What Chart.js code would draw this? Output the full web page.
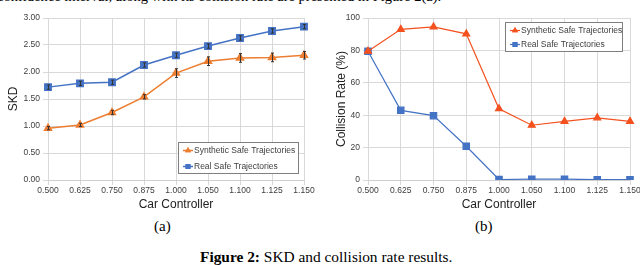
<!DOCTYPE html>
<html>
<head>
<meta charset="utf-8">
<script src="https://cdn.jsdelivr.net/npm/chart.js@4"></script>
<style>
  html, body { margin: 0; padding: 0; background: #fff; }
  body { width: 640px; height: 265px; position: relative; overflow: hidden; }
  .txt { position: absolute; font-family: "Liberation Serif", "Times New Roman", serif; color: #000; white-space: nowrap; line-height: 15px; }
  canvas { position: absolute; }
</style>
</head>
<body>
<div class="txt" style="left:-3px; top:-11px; font-size:14.5px; line-height:14.5px;">confidence interval, along with its collision rate are presented in Figure 2(a).</div>
<canvas id="skdChart" width="318" height="212" style="left:0; top:0;"></canvas>
<canvas id="collisionChart" width="330" height="212" style="left:320px; top:0;"></canvas>
<div class="txt" style="left:154px; top:219px; font-size:15px;">(a)</div>
<div class="txt" style="left:475px; top:219px; font-size:15px;">(b)</div>
<div class="txt" style="left:200px; top:249px; font-size:15.4px;"><b>Figure 2:</b> SKD and collision rate results.</div>
<script>
// Data
const controllers = ['0.500', '0.625', '0.750', '0.875', '1.000', '1.050', '1.100', '1.125', '1.150'];

const skdSynthetic = [0.96, 1.02, 1.25, 1.54, 1.98, 2.20, 2.26, 2.27, 2.31];
const skdReal = [1.72, 1.79, 1.81, 2.13, 2.31, 2.48, 2.63, 2.76, 2.84];
const skdSyntheticErr = [0.03, 0.03, 0.04, 0.04, 0.08, 0.08, 0.08, 0.08, 0.07];
const skdRealErr = [0.04, 0.04, 0.04, 0.04, 0.04, 0.04, 0.04, 0.04, 0.04];

const collisionSynthetic = [79.5, 93.0, 94.5, 90.2, 44.0, 33.8, 36.2, 38.4, 36.2];
const collisionReal = [79.5, 43.0, 39.7, 20.8, 0.3, 0.5, 0.5, 0.2, 0.2];

const seriesNames = ['Synthetic Safe Trajectories', 'Real Safe Trajectories'];

const FONT = '"Liberation Sans", Arial, sans-serif';
const GRID = '#d9d9d9';
const BLUE = '#4472c4';

// error bars drawn through the y scale
const errorBarPlugin = {
  id: 'errorBars',
  afterDatasetsDraw(chart) {
    const ctx = chart.ctx;
    const y = chart.scales.y;
    chart.data.datasets.forEach((ds, i) => {
      if (!ds.errors) return;
      const meta = chart.getDatasetMeta(i);
      ctx.save();
      ctx.strokeStyle = '#333';
      ctx.lineWidth = 1;
      meta.data.forEach((pt, j) => {
        const v = ds.data[j], e = ds.errors[j];
        const top = y.getPixelForValue(v + e);
        const bot = y.getPixelForValue(v - e);
        const x = Math.round(pt.x) + 0.5;
        ctx.beginPath();
        ctx.moveTo(x, top); ctx.lineTo(x, bot);
        ctx.moveTo(x - 1.5, top); ctx.lineTo(x + 1.5, top);
        ctx.moveTo(x - 1.5, bot); ctx.lineTo(x + 1.5, bot);
        ctx.stroke();
      });
      ctx.restore();
    });
  }
};

// boxed legend placed inside the plot, like the spreadsheet original
const boxLegendPlugin = {
  id: 'boxLegend',
  afterDraw(chart, args, opts) {
    const ctx = chart.ctx;
    ctx.save();
    ctx.fillStyle = '#fff';
    ctx.fillRect(opts.x, opts.y, opts.w, opts.h);
    ctx.strokeStyle = '#7f7f7f';
    ctx.lineWidth = 1;
    ctx.strokeRect(opts.x + 0.5, opts.y + 0.5, opts.w - 1, opts.h - 1);
    ctx.font = '8.5px ' + FONT;
    ctx.textBaseline = 'middle';
    chart.data.datasets.forEach((ds, i) => {
      const cy = opts.y + opts.first + i * opts.gap;
      const sx = opts.x + opts.sym;
      ctx.strokeStyle = ds.borderColor;
      ctx.lineWidth = ds.borderWidth;
      ctx.beginPath();
      ctx.moveTo(sx - 5, cy); ctx.lineTo(sx + 5, cy);
      ctx.stroke();
      ctx.fillStyle = ds.borderColor;
      Chart.helpers.drawPoint(ctx, { pointStyle: ds.pointStyle, radius: 3.5, borderWidth: 0 }, sx, cy);
      ctx.fill();
      ctx.fillStyle = '#404040';
      ctx.fillText(ds.label, sx + 6, cy);
    });
    ctx.restore();
  }
};

function makeOptions(yMax, yStep, decimals, titleText, titlePad, legend) {
  return {
    responsive: false,
    animation: false,
    layout: { padding: { top: 18, right: legend.right, bottom: 0, left: 0 } },
    plugins: { legend: { display: false }, tooltip: { enabled: false }, boxLegend: legend },
    scales: {
      x: {
        offset: false,
        grid: { color: GRID, tickLength: 5, drawTicks: true },
        border: { color: '#cfcfcf' },
        ticks: { font: { family: FONT, size: 8.5 }, color: '#404040', padding: 1, maxRotation: 0, autoSkip: false },
        title: { display: true, text: 'Car Controller', font: { family: FONT, size: 12 }, color: '#222', padding: 0 },
        afterFit(s) { s.height = 32; }
      },
      y: {
        min: 0, max: yMax,
        grid: { color: GRID, tickLength: 5 },
        border: { color: GRID },
        ticks: { stepSize: yStep, font: { family: FONT, size: 8.5 }, color: '#404040', padding: 3,
                 callback: v => v.toFixed(decimals) },
        title: { display: true, text: titleText, font: { family: FONT, size: 12 }, color: '#222', padding: { top: titlePad, bottom: 0 } },
        afterFit(s) { s.width = 48; }
      }
    }
  };
}

new Chart(document.getElementById('skdChart'), {
  type: 'line',
  data: {
    labels: controllers,
    datasets: [
      { label: seriesNames[0], data: skdSynthetic, errors: skdSyntheticErr, borderColor: '#ed7d31', backgroundColor: '#ed7d31',
        borderWidth: 1.5, pointStyle: 'triangle', pointRadius: 4, tension: 0 },
      { label: seriesNames[1], data: skdReal, errors: skdRealErr, borderColor: BLUE, backgroundColor: BLUE,
        borderWidth: 1.5, pointStyle: 'rect', pointRadius: 4.5, tension: 0 }
    ]
  },
  options: makeOptions(3, 0.5, 2, 'SKD', 6,
    { x: 178, y: 142, w: 121, h: 32, first: 8.5, gap: 16, sym: 10, right: 14 }),
  plugins: [errorBarPlugin, boxLegendPlugin]
});

new Chart(document.getElementById('collisionChart'), {
  type: 'line',
  data: {
    labels: controllers,
    datasets: [
      { label: seriesNames[0], data: collisionSynthetic, borderColor: '#f4511e', backgroundColor: '#f4511e',
        borderWidth: 1.2, pointStyle: 'triangle', pointRadius: 4, tension: 0 },
      { label: seriesNames[1], data: collisionReal, borderColor: BLUE, backgroundColor: BLUE,
        borderWidth: 1.2, pointStyle: 'rect', pointRadius: 4.5, tension: 0 }
    ]
  },
  options: makeOptions(100, 20, 0, 'Collision Rate (%)', 14,
    { x: 185, y: 22, w: 118, h: 30, first: 8.5, gap: 14, sym: 10, right: 20 }),
  plugins: [boxLegendPlugin]
});
</script>
</body>
</html>
